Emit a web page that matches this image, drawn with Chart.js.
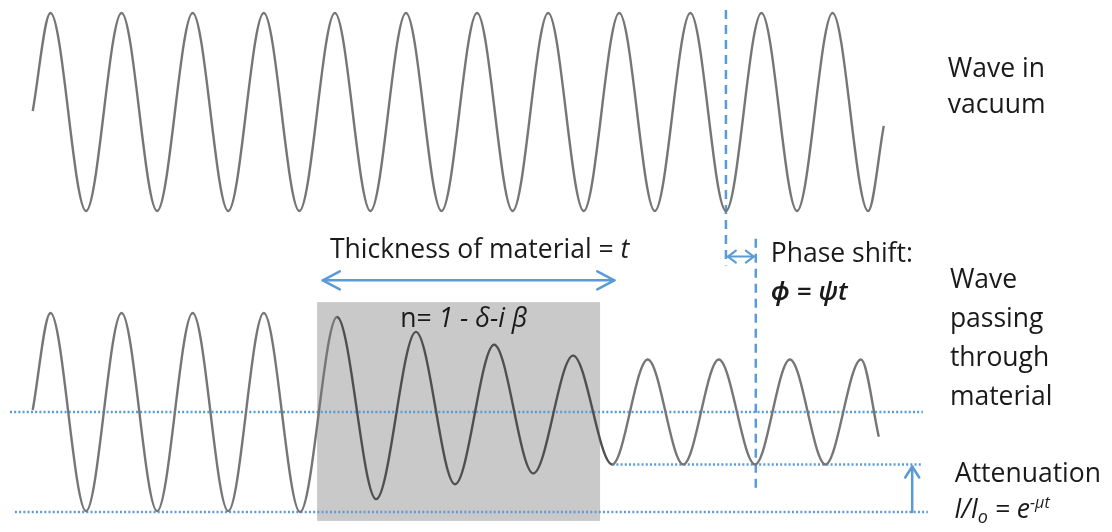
<!DOCTYPE html>
<html>
<head>
<meta charset="utf-8">
<script src="https://cdn.jsdelivr.net/npm/chart.js@4"></script>
<style>
  html, body { margin: 0; padding: 0; background: #fff; }
  #waveChart { display: block; }
</style>
</head>
<body>
<canvas id="waveChart" width="1112" height="532"></canvas>
<script>
// x is in vacuum wavelengths, y in amplitude units (1 = vacuum amplitude)
// values: start point, each crest/trough, end point

// wave in vacuum
const vacuumX = [0, 0.25, 0.75, 1.25, 1.75, 2.25, 2.75, 3.25, 3.75, 4.25, 4.75, 5.25, 5.75,
  6.25, 6.75, 7.25, 7.75, 8.25, 8.75, 9.25, 9.75, 10.25, 10.75, 11.25, 11.75, 11.97];
const vacuumY = [0.01, 1, -1, 1, -1, 1, -1, 1, -1, 1, -1, 1, -1,
  1, -1, 1, -1, 1, -1, 1, -1, 1, -1, 1, -1, -0.14];

// wave passing through material
const materialX = [0, 0.25, 0.75, 1.25, 1.75, 2.25, 2.75, 3.25, 3.76,
  4.28, 4.83, 5.39, 5.94, 6.49, 7.04, 7.6, 8.15,
  8.65, 9.15, 9.65, 10.16, 10.65, 11.15, 11.65, 11.9];
const materialY = [0.02, 1, -1, 1, -1, 1, -1, 1, -1.01,
  0.96, -0.88, 0.81, -0.73, 0.68, -0.62, 0.57, -0.53,
  0.53, -0.53, 0.53, -0.53, 0.53, -0.53, 0.53, -0.25];

// slab of material (x range) and reference levels
const materialSpan = [4.0, 7.98];
const unattenuatedLevel = 0;     // midline
const fullTroughLevel = -1.01;   // trough before material
const attenuatedTrough = -0.53;  // trough after material
const vacuumMarkX = 9.75;        // vacuum trough used for the phase shift
const materialMarkX = 10.17;     // shifted trough after material

const vacuumLabel = ["Wave in", "vacuum"];
const materialLabel = ["Wave", "passing", "through", "material"];

const BLUE = "#5b9bd5";
const toPoints = (xs, ys) => xs.map((x, i) => ({ x: x, y: ys[i] }));

// arrows, slab and text, placed through the chart scales
const annotations = {
  id: "annotations",
  beforeDatasetsDraw(chart) {
    const ctx = chart.ctx;
    const sx = chart.scales.x, sm = chart.scales.yMat;
    const l = sx.getPixelForValue(materialSpan[0]);
    const r = sx.getPixelForValue(materialSpan[1]);
    const t = sm.getPixelForValue(1.11);
    const b = sm.getPixelForValue(-1.1);
    ctx.save();
    ctx.fillStyle = "#c9c9c9";
    ctx.fillRect(l, t, r - l, b - t);
    ctx.restore();
  },
  afterDatasetsDraw(chart) {
    const ctx = chart.ctx;
    const sx = chart.scales.x, sv = chart.scales.yVac, sm = chart.scales.yMat;
    const X = v => sx.getPixelForValue(v);
    const V = v => sv.getPixelForValue(v);
    const M = v => sm.getPixelForValue(v);

    function head(x, y, dx, dy, len, half) {
      // open chevron pointing along (dx, dy)
      const px = -dy, py = dx;
      ctx.beginPath();
      ctx.moveTo(x - dx * len + px * half, y - dy * len + py * half);
      ctx.lineTo(x, y);
      ctx.lineTo(x - dx * len - px * half, y - dy * len - py * half);
      ctx.stroke();
    }

    ctx.save();
    ctx.strokeStyle = BLUE;
    ctx.lineWidth = 2.5;
    ctx.lineCap = "round";
    ctx.lineJoin = "round";

    // thickness arrow
    let x1 = X(4.08), x2 = X(8.18), y = M(1.33);
    ctx.beginPath(); ctx.moveTo(x1, y); ctx.lineTo(x2, y); ctx.stroke();
    head(x1, y, -1, 0, 17, 9);
    head(x2, y, 1, 0, 17, 9);

    // phase shift arrow
    x1 = X(vacuumMarkX) + 2; x2 = X(materialMarkX) - 2; y = M(1.57);
    ctx.lineWidth = 2;
    ctx.beginPath(); ctx.moveTo(x1, y); ctx.lineTo(x2, y); ctx.stroke();
    head(x1, y, -1, 0, 8, 6);
    head(x2, y, 1, 0, 8, 6);

    // attenuation arrow
    const ax = X(12.37);
    ctx.lineWidth = 2.5;
    ctx.beginPath(); ctx.moveTo(ax, M(fullTroughLevel)); ctx.lineTo(ax, M(attenuatedTrough) + 2); ctx.stroke();
    head(ax, M(attenuatedTrough) + 2, 0, -1, 11, 7);
    ctx.restore();

    // text
    ctx.save();
    ctx.fillStyle = "#1a1a1a";
    ctx.textBaseline = "alphabetic";
    ctx.textAlign = "left";
    const sans = "26.5px 'Open Sans', 'Noto Sans', sans-serif";
    const ital = "italic 26.5px 'Open Sans', 'Noto Sans', sans-serif";

    function runs(x, y, parts) {
      parts.forEach(p => {
        ctx.font = p.font;
        ctx.fillText(p.t, x, y + (p.dy || 0));
        x += ctx.measureText(p.t).width;
      });
    }

    ctx.font = sans;
    vacuumLabel.forEach((s, i) => ctx.fillText(s, X(12.87), V(0.354 - i * 0.364)));
    materialLabel.forEach((s, i) => ctx.fillText(s, X(12.9), M(1.253 - i * 0.394)));
    runs(X(4.18), M(1.556), [
      { t: "Thickness of material = ", font: sans },
      { t: "t", font: ital }
    ]);
    runs(X(5.17), M(0.859), [
      { t: "n= ", font: sans },
      { t: "1 - δ-i β", font: ital }
    ]);
    runs(X(10.38), M(1.515), [{ t: "Phase shift:", font: sans }]);
    runs(X(10.38), M(1.131), [{ t: "ϕ = ψt", font: "italic 600 26px 'Open Sans', 'Noto Sans', sans-serif" }]);
    runs(X(12.97), M(-0.707), [{ t: "Attenuation", font: sans }]);
    runs(X(12.96), M(-1.071), [
      { t: "I/I", font: ital },
      { t: "o", font: "italic 18px 'Open Sans', 'Noto Sans', sans-serif", dy: 5 },
      { t: " = e", font: ital },
      { t: "-μt", font: "italic 16px 'Open Sans', 'Noto Sans', sans-serif", dy: -10 }
    ]);
    ctx.restore();
  }
};

const inSlab = c => c.p0.parsed.x >= materialSpan[0] && c.p1.parsed.x <= materialSpan[1] + 0.2;

new Chart(document.getElementById("waveChart"), {
  type: "line",
  data: {
    datasets: [
      {
        label: "Wave in vacuum",
        data: toPoints(vacuumX, vacuumY),
        yAxisID: "yVac",
        borderColor: "#767676",
        borderWidth: 2.4,
        pointRadius: 0,
        cubicInterpolationMode: "monotone",
      },
      {
        label: "Wave passing through material",
        data: toPoints(materialX, materialY),
        yAxisID: "yMat",
        borderColor: "#767676",
        borderWidth: 2.4,
        pointRadius: 0,
        cubicInterpolationMode: "monotone",
        segment: { borderColor: c => (inSlab(c) ? "#4f4f4f" : "#767676") },
      },
      {
        label: "vacuum trough",
        data: toPoints([vacuumMarkX, vacuumMarkX], [1.03, -1.55]),
        yAxisID: "yVac",
        borderColor: BLUE,
        borderWidth: 2.5,
        borderDash: [9, 6],
        pointRadius: 0,
      },
      {
        label: "shifted trough",
        data: toPoints([materialMarkX, materialMarkX], [1.75, -0.81]),
        yAxisID: "yMat",
        borderColor: BLUE,
        borderWidth: 2.5,
        borderDash: [9, 6],
        pointRadius: 0,
      },
      {
        label: "midline",
        data: toPoints([-0.32, 12.52], [unattenuatedLevel, unattenuatedLevel]),
        yAxisID: "yMat",
        borderColor: BLUE,
        borderWidth: 2.5,
        borderDash: [2, 2.2],
        pointRadius: 0,
      },
      {
        label: "full trough",
        data: toPoints([-0.25, 12.59], [fullTroughLevel, fullTroughLevel]),
        yAxisID: "yMat",
        borderColor: BLUE,
        borderWidth: 2.5,
        borderDash: [2, 2.2],
        pointRadius: 0,
      },
      {
        label: "attenuated trough",
        data: toPoints([8.15, 12.52], [attenuatedTrough, attenuatedTrough]),
        yAxisID: "yMat",
        borderColor: BLUE,
        borderWidth: 2.5,
        borderDash: [2, 2.2],
        pointRadius: 0,
      },
    ],
  },
  options: {
    responsive: false,
    animation: false,
    events: [],
    layout: { padding: 0 },
    plugins: { legend: { display: false }, tooltip: { enabled: false } },
    scales: {
      x: { type: "linear", display: false, min: -0.46, max: 15.18 },
      yVac: { type: "linear", display: false, min: -4.242, max: 1.131 },
      yMat: { type: "linear", display: false, min: -1.212, max: 4.162 },
    },
  },
  plugins: [annotations],
});
</script>
</body>
</html>
